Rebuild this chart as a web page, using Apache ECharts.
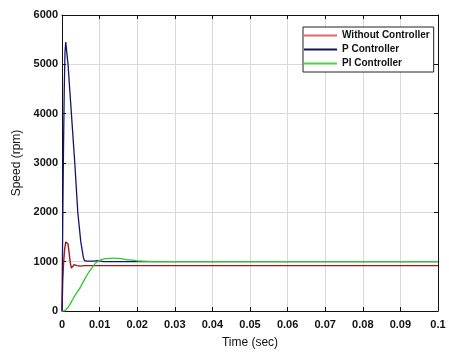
<!DOCTYPE html>
<html>
<head>
<meta charset="utf-8">
<script src="https://cdn.jsdelivr.net/npm/echarts@6/dist/echarts.min.js"></script>
<style>
html,body{margin:0;padding:0;background:#fff;}
#chart{width:449px;height:354px;}
</style>
</head>
<body>
<div id="chart"></div>
<script>
// Series names
const seriesNames = ['Without Controller', 'P Controller', 'PI Controller'];

// Without Controller (time in sec, speed in rpm)
const tNoCtrl = [0, 0.0002, 0.0004, 0.0007, 0.0010, 0.0013, 0.0016, 0.0019, 0.0022, 0.0025, 0.0028, 0.0032, 0.0036, 0.0040, 0.0044, 0.0048, 0.0053, 0.0060, 0.1];
const vNoCtrl = [0, 600, 950, 1250, 1400, 1420, 1360, 1180, 980, 870, 880, 940, 965, 920, 890, 910, 925, 920, 920];

// P Controller
const tP = [0, 0.0002, 0.0004, 0.0006, 0.0008, 0.0010, 0.0012, 0.0016, 0.0025, 0.0034, 0.0042, 0.0050, 0.0057, 0.0060, 0.0063, 0.0066, 0.0070, 0.0074, 0.0079, 0.0085, 0.0095, 0.0110, 0.1];
const vP = [0, 1800, 3300, 4500, 5250, 5450, 5420, 5000, 4000, 3000, 2000, 1400, 1080, 1020, 1060, 1010, 1050, 1010, 1030, 1010, 1020, 1000, 1000];

// PI Controller
const tPI = [0, 0.0005, 0.0012, 0.0020, 0.0026, 0.0035, 0.0048, 0.0060, 0.0070, 0.0080, 0.0088, 0.0097, 0.0105, 0.0115, 0.0128, 0.0137, 0.0150, 0.0180, 0.0210, 0.0250, 0.0300, 0.1];
const vPI = [0, 0, 40, 120, 200, 320, 470, 640, 770, 880, 960, 1010, 1040, 1060, 1068, 1070, 1065, 1035, 1010, 1000, 1000, 1000];

// Tick labels
const xTickLabels = ['0', '0.01', '0.02', '0.03', '0.04', '0.05', '0.06', '0.07', '0.08', '0.09', '0.1'];
const yTickLabels = ['0', '1000', '2000', '3000', '4000', '5000', '6000'];

const colors = ['#a01818', '#141470', '#2ec82e'];
const legendColors = ['#d86a6a', '#141450', '#4fd04f'];

function pairs(t, v) { return t.map((x, i) => [x, v[i]]); }

const chart = echarts.init(document.getElementById('chart'), null, {renderer: 'canvas'});
const labelFont = {fontFamily: 'Liberation Sans, Arial, sans-serif', fontSize: 11, fontWeight: 'bold', color: '#111'};

chart.setOption({
  backgroundColor: '#fff',
  animation: false,
  color: colors,
  grid: {left: 62, right: 11, top: 15, bottom: 39, show: false},
  legend: {
    orient: 'vertical',
    left: 303, top: 27,
    padding: [3, 4, 3, 1],
    itemGap: 3,
    itemWidth: 33, itemHeight: 2,
    icon: 'rect',
    itemStyle: {borderWidth: 0},
    backgroundColor: '#fff',
    borderColor: '#222', borderWidth: 1,
    textStyle: {fontFamily: 'Liberation Sans, Arial, sans-serif', fontSize: 10, fontWeight: 'bold', color: '#111', lineHeight: 11},
    data: seriesNames.map((n, i) => ({name: n, itemStyle: {color: legendColors[i], borderWidth: 0}}))
  },
  xAxis: [{
    type: 'value', min: 0, max: 0.1, interval: 0.01, position: 'bottom',
    name: 'Time (sec)', nameLocation: 'middle', nameGap: 26,
    nameTextStyle: {fontFamily: 'Liberation Sans, Arial, sans-serif', fontSize: 12, color: '#111'},
    axisLine: {show: true, onZero: false, lineStyle: {color: '#111', width: 1}},
    axisTick: {show: true, inside: true, length: 4, lineStyle: {color: '#111'}},
    axisLabel: Object.assign({margin: 8, formatter: v => xTickLabels[Math.round(v / 0.01)]}, labelFont),
    splitLine: {show: true, lineStyle: {color: '#d9d9d9', width: 1}}
  }, {
    type: 'value', min: 0, max: 0.1, interval: 0.01, position: 'top',
    axisLine: {show: true, onZero: false, lineStyle: {color: '#111', width: 1}},
    axisTick: {show: true, inside: true, length: 4, lineStyle: {color: '#111'}},
    axisLabel: {show: false}, splitLine: {show: false}
  }],
  yAxis: [{
    type: 'value', min: 0, max: 6000, interval: 1000, position: 'left',
    name: 'Speed (rpm)', nameLocation: 'middle', nameGap: 29, nameRotate: 90,
    nameTextStyle: {fontFamily: 'Liberation Sans, Arial, sans-serif', fontSize: 12, color: '#111'},
    axisLine: {show: true, onZero: false, lineStyle: {color: '#111', width: 1}},
    axisTick: {show: true, inside: true, length: 4, lineStyle: {color: '#111'}},
    axisLabel: Object.assign({margin: 4, formatter: v => yTickLabels[Math.round(v / 1000)]}, labelFont),
    splitLine: {show: true, lineStyle: {color: '#d9d9d9', width: 1}}
  }, {
    type: 'value', min: 0, max: 6000, interval: 1000, position: 'right',
    axisLine: {show: true, onZero: false, lineStyle: {color: '#111', width: 1}},
    axisTick: {show: true, inside: true, length: 4, lineStyle: {color: '#111'}},
    axisLabel: {show: false}, splitLine: {show: false}
  }],
  series: [
    {name: seriesNames[0], type: 'line', data: pairs(tNoCtrl, vNoCtrl), showSymbol: false, symbol: 'none', lineStyle: {width: 1.4}},
    {name: seriesNames[1], type: 'line', data: pairs(tP, vP), showSymbol: false, symbol: 'none', lineStyle: {width: 1.3}},
    {name: seriesNames[2], type: 'line', data: pairs(tPI, vPI), showSymbol: false, symbol: 'none', smooth: 0.3, lineStyle: {width: 1.3}}
  ]
});
</script>
</body>
</html>
